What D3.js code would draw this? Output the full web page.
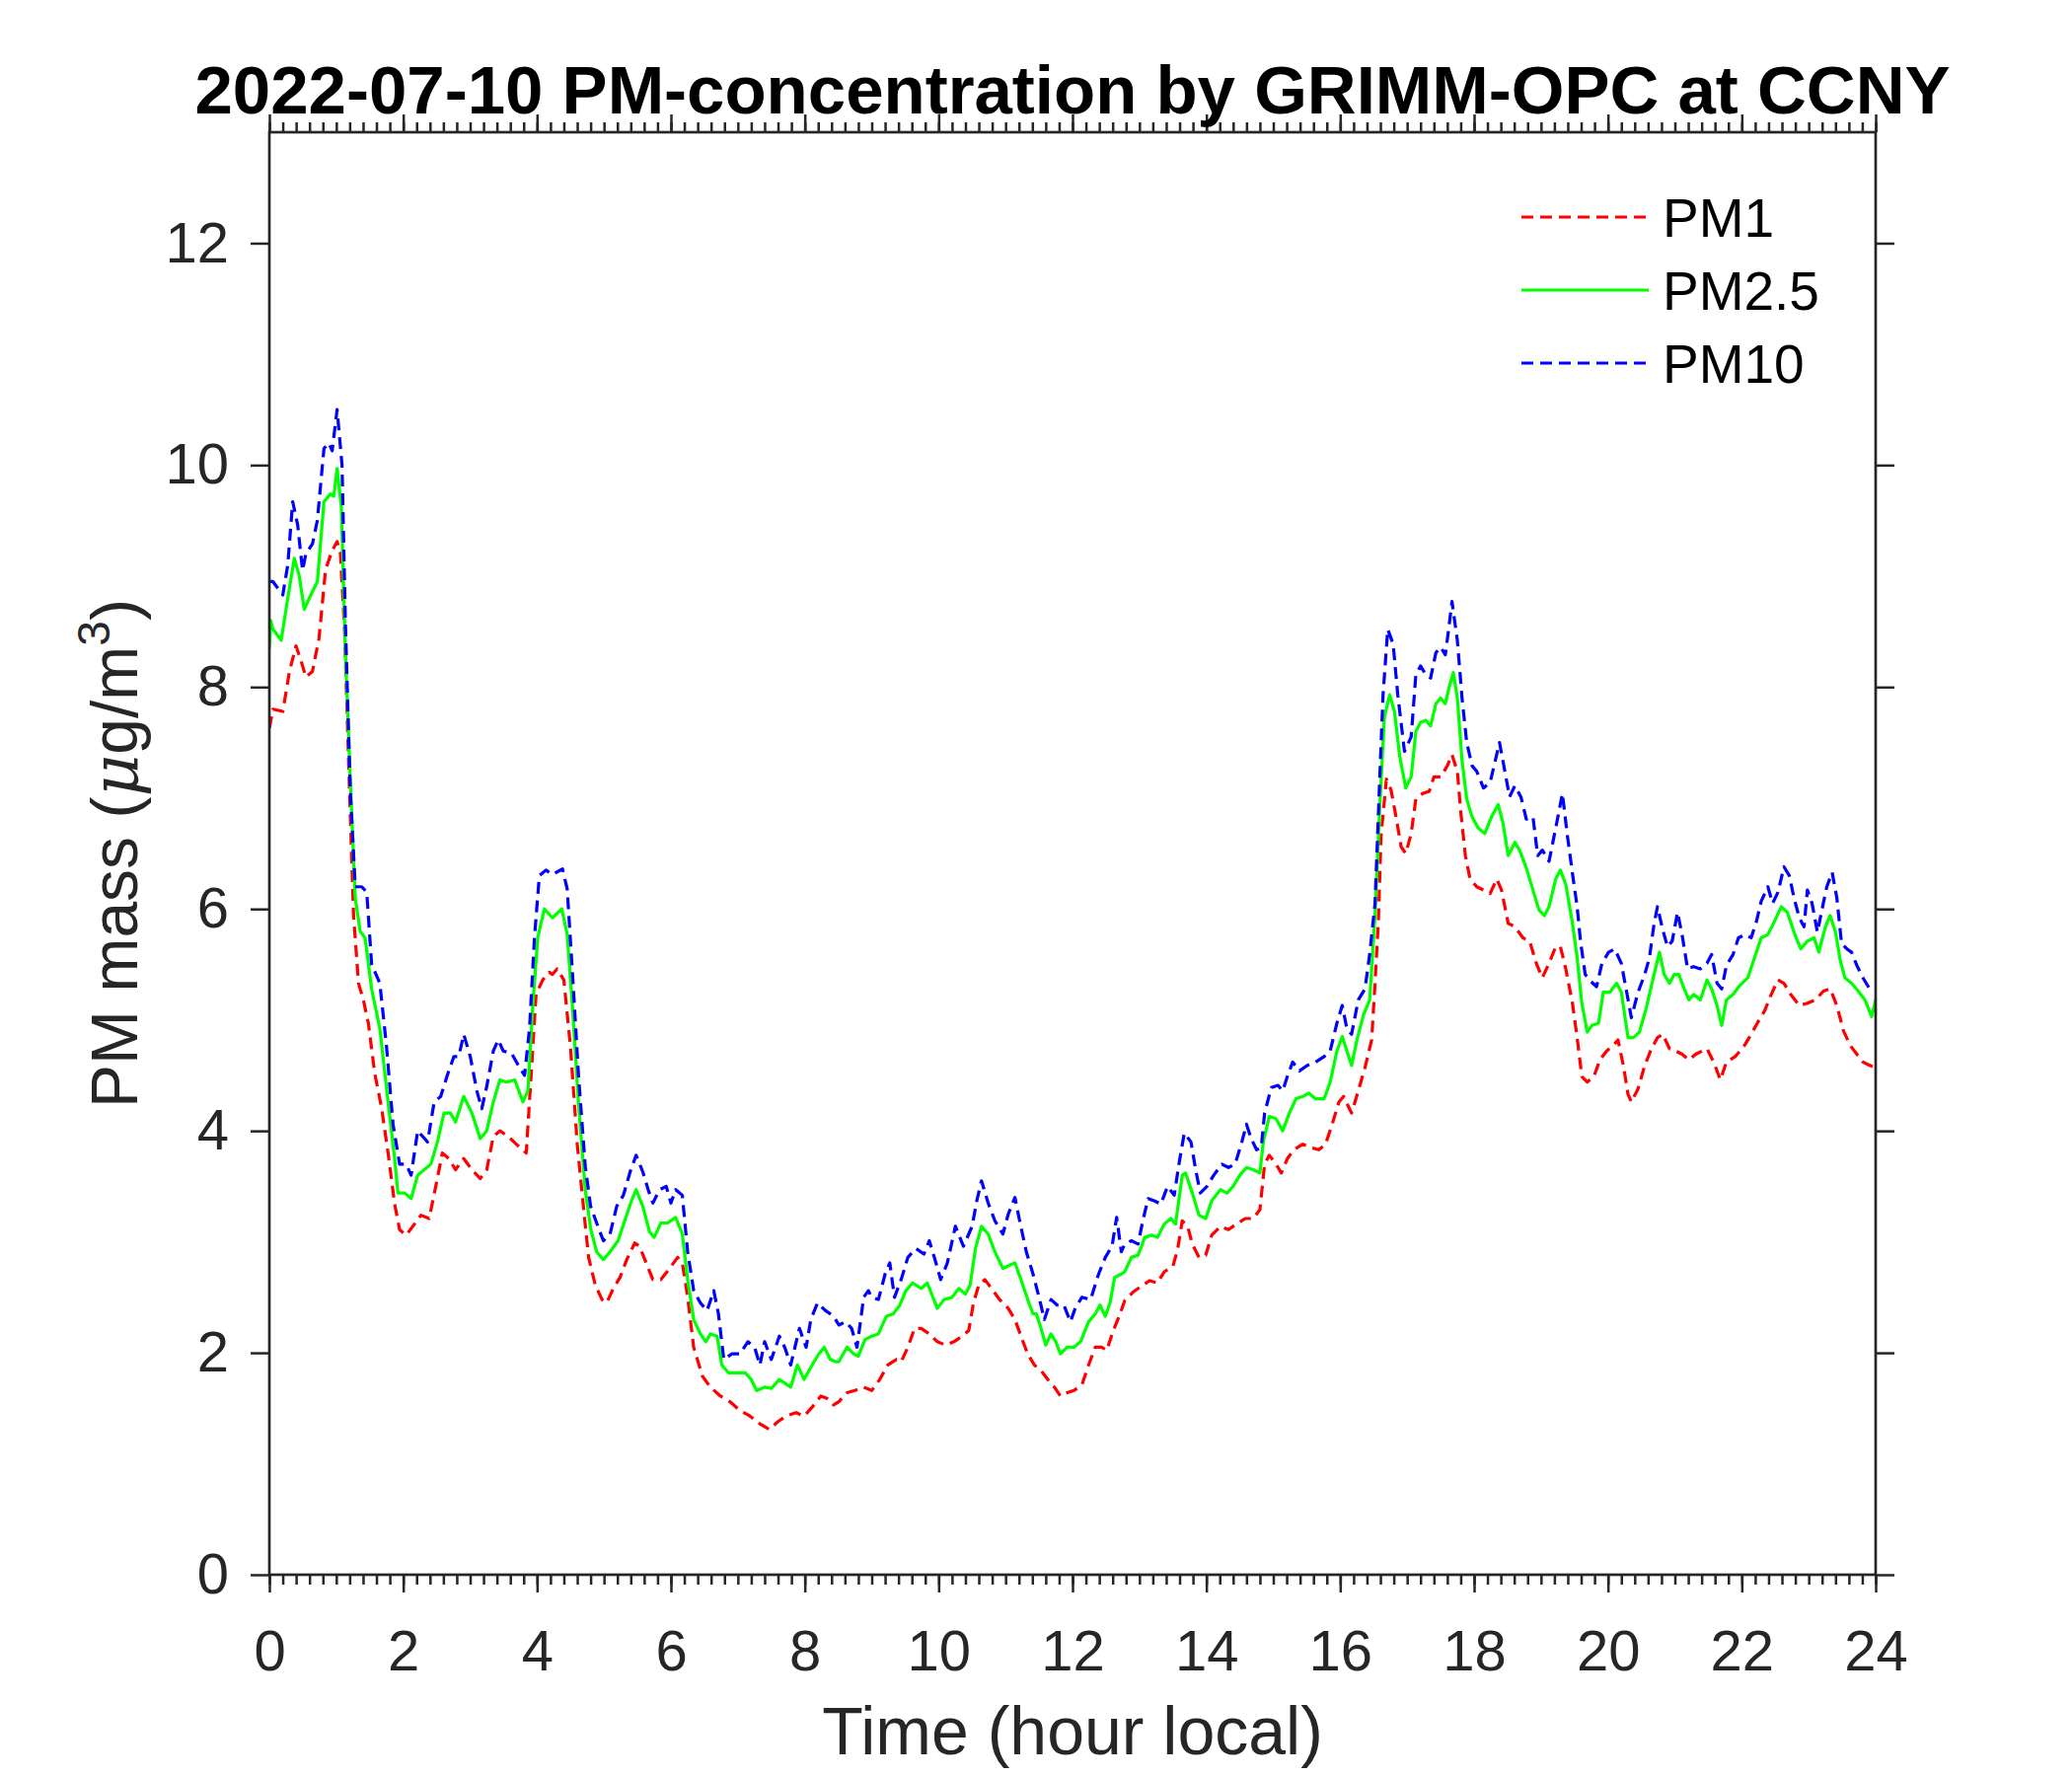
<!DOCTYPE html>
<html>
<head>
<meta charset="utf-8">
<script src="https://cdn.jsdelivr.net/npm/d3@7"></script>
<style>
  body { margin: 0; background: #fff; }
  svg { display: block; font-family: "Liberation Sans", Arial, Helvetica, sans-serif; }
</style>
</head>
<body>
<div id="chart"></div>
<script>
// hours / concentration pairs
const pm1Data = [
  [0,7.63],[0.054,7.8],[0.201,7.78],[0.3,8.14],[0.398,8.37],[0.472,8.24],[0.545,8.09],[0.644,8.14],[0.742,8.44],
  [0.84,9.06],[0.939,9.23],[1.012,9.31],[1.061,9.21],[1.125,8.5],[1.184,7.32],[1.258,5.94],[1.332,5.33],[1.405,5.18],
  [1.479,4.97],[1.577,4.51],[1.676,4.21],[1.774,3.8],[1.872,3.34],[1.946,3.11],[2.044,3.06],[2.143,3.14],[2.265,3.24],
  [2.388,3.21],[2.486,3.5],[2.585,3.8],[2.683,3.75],[2.781,3.65],[2.904,3.75],[3.027,3.65],[3.15,3.57],[3.248,3.65],
  [3.346,3.95],[3.445,4.0],[3.568,3.95],[3.69,3.88],[3.838,3.8],[3.912,4.51],[3.985,5.23],[4.084,5.36],[4.182,5.43],
  [4.23,5.41],[4.30,5.46],[4.40,5.36],[4.50,4.75],[4.60,3.88],[4.70,3.27],[4.77,2.86],[4.87,2.61],[4.97,2.48],
  [5.04,2.45],[5.14,2.58],[5.24,2.68],[5.34,2.84],[5.46,2.99],[5.53,2.96],[5.63,2.81],[5.73,2.66],[5.85,2.66],
  [5.98,2.76],[6.10,2.86],[6.17,2.81],[6.25,2.5],[6.34,2.05],[6.47,1.79],[6.59,1.69],[6.74,1.61],[6.88,1.56],
  [7.03,1.48],[7.18,1.43],[7.33,1.36],[7.47,1.31],[7.60,1.38],[7.72,1.43],[7.87,1.46],[7.99,1.43],[8.11,1.51],
  [8.24,1.61],[8.33,1.59],[8.43,1.53],[8.51,1.56],[8.63,1.64],[8.75,1.66],[8.88,1.69],[9.0,1.66],[9.12,1.76],
  [9.24,1.89],[9.37,1.94],[9.44,1.92],[9.54,2.05],[9.64,2.22],[9.74,2.22],[9.86,2.17],[9.98,2.1],[10.10,2.07],
  [10.23,2.1],[10.35,2.15],[10.45,2.2],[10.52,2.45],[10.60,2.61],[10.69,2.66],[10.79,2.58],[10.91,2.48],[11.04,2.4],
  [11.14,2.3],[11.23,2.15],[11.33,1.99],[11.43,1.89],[11.53,1.84],[11.63,1.76],[11.73,1.69],[11.82,1.61],[11.92,1.64],
  [12.02,1.66],[12.14,1.71],[12.24,1.89],[12.34,2.05],[12.44,2.05],[12.51,2.02],[12.61,2.2],[12.71,2.35],[12.78,2.47],
  [12.91,2.55],[13.03,2.6],[13.15,2.65],[13.27,2.63],[13.37,2.73],[13.50,2.78],[13.57,2.93],[13.64,3.19],[13.72,3.14],
  [13.79,2.98],[13.89,2.86],[13.99,2.88],[14.08,3.06],[14.21,3.14],[14.33,3.11],[14.45,3.16],[14.58,3.21],[14.70,3.21],
  [14.80,3.29],[14.87,3.7],[14.94,3.78],[15.04,3.7],[15.12,3.62],[15.21,3.75],[15.31,3.83],[15.44,3.88],[15.56,3.85],
  [15.68,3.83],[15.78,3.88],[15.88,4.06],[15.98,4.26],[16.05,4.31],[16.17,4.16],[16.27,4.36],[16.37,4.57],[16.47,4.82],
  [16.52,5.33],[16.57,5.89],[16.61,6.66],[16.69,7.17],[16.76,7.07],[16.84,6.81],[16.91,6.56],[16.98,6.5],[17.06,6.68],
  [17.13,6.99],[17.23,7.04],[17.33,7.06],[17.40,7.19],[17.50,7.19],[17.60,7.29],[17.67,7.39],[17.75,7.24],[17.80,6.88],
  [17.87,6.48],[17.94,6.27],[18.04,6.2],[18.14,6.17],[18.24,6.14],[18.34,6.27],[18.41,6.17],[18.51,5.87],[18.61,5.84],
  [18.73,5.74],[18.83,5.71],[18.93,5.51],[19.02,5.38],[19.12,5.51],[19.22,5.66],[19.29,5.66],[19.37,5.46],[19.47,5.15],
  [19.54,4.84],[19.61,4.49],[19.69,4.44],[19.79,4.49],[19.88,4.64],[19.98,4.72],[20.08,4.77],[20.15,4.82],[20.23,4.59],
  [20.30,4.33],[20.35,4.26],[20.45,4.38],[20.55,4.59],[20.65,4.74],[20.74,4.84],[20.82,4.87],[20.92,4.74],[21.01,4.72],
  [21.11,4.69],[21.21,4.64],[21.31,4.69],[21.41,4.72],[21.48,4.74],[21.58,4.62],[21.68,4.46],[21.77,4.62],[21.90,4.67],
  [22.02,4.75],[22.14,4.87],[22.24,4.98],[22.34,5.08],[22.44,5.23],[22.54,5.36],[22.63,5.33],[22.73,5.23],[22.86,5.13],
  [22.98,5.15],[23.10,5.18],[23.22,5.26],[23.32,5.28],[23.42,5.13],[23.52,4.9],[23.62,4.77],[23.72,4.69],[23.81,4.62],
  [23.91,4.59],[24.0,4.57]
];

const pm25Data = [
  [0,8.35],[0.02,8.6],[0.054,8.52],[0.177,8.42],[0.275,8.8],[0.373,9.16],[0.447,9.0],[0.521,8.7],[0.619,8.83],
  [0.717,8.95],[0.816,9.67],[0.914,9.74],[0.963,9.72],[1.012,9.97],[1.076,9.62],[1.135,8.34],[1.209,7.17],[1.283,6.1],
  [1.356,5.8],[1.43,5.74],[1.528,5.28],[1.651,4.92],[1.774,4.26],[1.872,3.75],[1.921,3.44],[2.02,3.44],[2.118,3.39],
  [2.216,3.6],[2.314,3.65],[2.413,3.7],[2.511,3.9],[2.609,4.16],[2.708,4.16],[2.781,4.08],[2.904,4.31],[3.027,4.16],
  [3.15,3.93],[3.248,4.0],[3.346,4.26],[3.445,4.46],[3.543,4.44],[3.666,4.46],[3.789,4.26],[3.862,4.36],[3.936,5.13],
  [4.01,5.74],[4.108,6.0],[4.23,5.92],[4.37,6.0],[4.45,5.77],[4.53,5.11],[4.62,4.24],[4.72,3.47],[4.80,3.12],
  [4.89,2.91],[4.99,2.84],[5.09,2.91],[5.21,3.01],[5.31,3.19],[5.41,3.37],[5.48,3.47],[5.58,3.32],[5.68,3.09],
  [5.75,3.04],[5.85,3.17],[5.95,3.17],[6.07,3.22],[6.17,3.07],[6.25,2.66],[6.34,2.3],[6.44,2.17],[6.52,2.1],
  [6.59,2.17],[6.69,2.15],[6.76,1.89],[6.86,1.82],[6.98,1.82],[7.11,1.82],[7.20,1.76],[7.28,1.66],[7.40,1.69],
  [7.50,1.68],[7.62,1.76],[7.74,1.71],[7.79,1.69],[7.89,1.89],[7.99,1.76],[8.11,1.89],[8.21,1.99],[8.29,2.05],
  [8.38,1.94],[8.46,1.92],[8.51,1.92],[8.63,2.05],[8.73,1.99],[8.80,1.97],[8.90,2.12],[9.0,2.15],[9.10,2.17],
  [9.22,2.33],[9.32,2.35],[9.42,2.43],[9.51,2.56],[9.61,2.63],[9.74,2.58],[9.83,2.63],[9.98,2.4],[10.08,2.48],
  [10.20,2.5],[10.30,2.58],[10.40,2.53],[10.47,2.61],[10.55,2.94],[10.64,3.14],[10.74,3.07],[10.84,2.91],[10.96,2.76],
  [11.06,2.79],[11.14,2.81],[11.23,2.66],[11.33,2.48],[11.41,2.35],[11.46,2.35],[11.53,2.22],[11.60,2.07],[11.68,2.17],
  [11.75,2.1],[11.82,1.99],[11.92,2.05],[12.02,2.05],[12.12,2.1],[12.24,2.28],[12.34,2.35],[12.41,2.43],[12.49,2.33],
  [12.56,2.45],[12.63,2.68],[12.73,2.71],[12.78,2.73],[12.88,2.86],[12.98,2.88],[13.08,3.04],[13.18,3.06],[13.27,3.04],
  [13.37,3.16],[13.47,3.21],[13.54,3.16],[13.64,3.6],[13.69,3.62],[13.79,3.44],[13.89,3.24],[13.99,3.21],[14.08,3.37],
  [14.21,3.47],[14.31,3.44],[14.40,3.5],[14.50,3.6],[14.60,3.67],[14.70,3.65],[14.80,3.62],[14.85,3.9],[14.94,4.13],
  [15.04,4.11],[15.14,4.0],[15.24,4.16],[15.34,4.29],[15.44,4.31],[15.53,4.34],[15.63,4.29],[15.76,4.29],[15.85,4.44],
  [15.95,4.72],[16.03,4.85],[16.10,4.72],[16.17,4.59],[16.25,4.82],[16.35,5.05],[16.44,5.18],[16.52,5.94],[16.59,6.91],
  [16.66,7.73],[16.74,7.93],[16.81,7.78],[16.89,7.37],[16.98,7.09],[17.06,7.19],[17.13,7.6],[17.20,7.68],[17.28,7.7],
  [17.35,7.65],[17.43,7.85],[17.50,7.9],[17.57,7.85],[17.62,7.98],[17.69,8.13],[17.75,7.9],[17.82,7.34],[17.89,6.99],
  [17.97,6.83],[18.06,6.73],[18.16,6.68],[18.26,6.83],[18.36,6.94],[18.43,6.78],[18.51,6.48],[18.61,6.6],[18.68,6.53],
  [18.78,6.37],[18.88,6.17],[18.97,5.99],[19.05,5.94],[19.12,6.02],[19.22,6.27],[19.29,6.35],[19.37,6.22],[19.47,5.87],
  [19.54,5.56],[19.61,5.15],[19.69,4.89],[19.76,4.95],[19.86,4.97],[19.93,5.25],[20.03,5.25],[20.13,5.33],[20.20,5.25],
  [20.30,4.84],[20.38,4.84],[20.47,4.89],[20.57,5.1],[20.67,5.36],[20.77,5.61],[20.84,5.41],[20.92,5.33],[20.99,5.41],
  [21.06,5.41],[21.14,5.28],[21.21,5.18],[21.28,5.23],[21.38,5.18],[21.48,5.36],[21.55,5.28],[21.63,5.13],[21.70,4.95],
  [21.77,5.18],[21.87,5.23],[21.97,5.31],[22.09,5.38],[22.19,5.56],[22.29,5.74],[22.39,5.77],[22.49,5.89],[22.59,6.02],
  [22.68,5.97],[22.78,5.79],[22.88,5.64],[22.98,5.71],[23.08,5.74],[23.15,5.61],[23.25,5.84],[23.32,5.94],[23.40,5.79],
  [23.47,5.54],[23.54,5.38],[23.64,5.33],[23.74,5.26],[23.84,5.18],[23.94,5.03],[24.0,5.18]
];

const pm10Data = [
  [0,8.95],[0.054,8.95],[0.201,8.83],[0.275,9.1],[0.349,9.67],[0.423,9.46],[0.496,9.05],[0.545,9.2],[0.644,9.29],
  [0.717,9.5],[0.816,10.15],[0.889,10.2],[0.939,10.13],[1.012,10.5],[1.086,10.0],[1.135,8.6],[1.209,7.07],[1.283,6.2],
  [1.381,6.2],[1.455,6.15],[1.528,5.5],[1.651,5.33],[1.749,4.77],[1.848,4.06],[1.946,3.7],[2.044,3.7],[2.118,3.6],
  [2.216,4.0],[2.29,3.95],[2.364,3.9],[2.462,4.26],[2.56,4.31],[2.658,4.5],[2.757,4.67],[2.83,4.67],[2.904,4.87],
  [3.002,4.67],[3.1,4.36],[3.174,4.2],[3.248,4.4],[3.346,4.72],[3.42,4.82],[3.494,4.72],[3.617,4.7],[3.74,4.57],
  [3.813,4.5],[3.887,4.92],[3.961,5.74],[4.034,6.3],[4.133,6.35],[4.23,6.31],[4.38,6.36],[4.45,6.18],[4.53,5.41],
  [4.62,4.49],[4.72,3.68],[4.80,3.32],[4.89,3.17],[4.99,3.01],[5.09,3.07],[5.19,3.32],[5.29,3.42],[5.39,3.63],
  [5.48,3.78],[5.58,3.63],[5.66,3.47],[5.73,3.35],[5.83,3.47],[5.93,3.5],[6.0,3.35],[6.07,3.47],[6.17,3.42],
  [6.25,2.91],[6.34,2.56],[6.44,2.45],[6.54,2.38],[6.64,2.56],[6.71,2.35],[6.79,1.94],[6.91,1.99],[7.03,1.99],
  [7.15,2.1],[7.25,2.05],[7.33,1.89],[7.40,2.1],[7.50,1.94],[7.62,2.15],[7.70,2.05],[7.79,1.89],[7.92,2.22],
  [8.02,2.05],[8.09,2.3],[8.19,2.45],[8.31,2.38],[8.43,2.33],[8.51,2.25],[8.61,2.28],[8.70,2.22],[8.78,2.05],
  [8.88,2.5],[8.95,2.56],[9.0,2.5],[9.10,2.48],[9.20,2.71],[9.27,2.81],[9.34,2.5],[9.44,2.66],[9.54,2.86],
  [9.66,2.94],[9.78,2.89],[9.86,3.01],[9.96,2.81],[10.03,2.66],[10.13,2.81],[10.25,3.14],[10.37,2.96],[10.50,3.14],
  [10.57,3.37],[10.64,3.55],[10.74,3.35],[10.84,3.19],[10.96,3.07],[11.04,3.25],[11.14,3.4],[11.21,3.19],[11.31,2.91],
  [11.41,2.71],[11.50,2.5],[11.58,2.3],[11.68,2.48],[11.77,2.43],[11.87,2.43],[11.97,2.28],[12.04,2.4],[12.14,2.5],
  [12.27,2.48],[12.39,2.71],[12.49,2.86],[12.59,2.96],[12.66,3.22],[12.73,2.91],[12.78,2.98],[12.88,3.01],[12.98,2.98],
  [13.05,3.19],[13.13,3.39],[13.22,3.37],[13.32,3.34],[13.42,3.5],[13.52,3.42],[13.59,3.7],[13.67,3.98],[13.77,3.9],
  [13.84,3.65],[13.91,3.44],[14.01,3.5],[14.11,3.6],[14.23,3.7],[14.33,3.67],[14.43,3.7],[14.53,3.9],[14.60,4.06],
  [14.67,3.93],[14.75,3.83],[14.82,3.85],[14.87,4.16],[14.97,4.39],[15.07,4.41],[15.14,4.36],[15.21,4.49],[15.29,4.62],
  [15.39,4.54],[15.51,4.59],[15.63,4.62],[15.76,4.67],[15.85,4.72],[15.95,4.97],[16.03,5.13],[16.10,4.92],[16.17,4.87],
  [16.27,5.18],[16.37,5.28],[16.44,5.59],[16.52,6.05],[16.59,7.17],[16.64,7.93],[16.71,8.52],[16.79,8.39],[16.86,7.93],
  [16.96,7.42],[17.06,7.55],[17.13,8.11],[17.20,8.19],[17.28,8.11],[17.35,8.08],[17.43,8.31],[17.50,8.36],[17.57,8.29],
  [17.62,8.52],[17.67,8.77],[17.75,8.42],[17.82,7.9],[17.89,7.5],[17.97,7.29],[18.04,7.24],[18.14,7.09],[18.24,7.14],
  [18.31,7.32],[18.38,7.5],[18.46,7.24],[18.53,7.01],[18.61,7.11],[18.70,7.01],[18.78,6.81],[18.88,6.83],[18.95,6.48],
  [19.02,6.53],[19.12,6.43],[19.22,6.73],[19.32,7.04],[19.39,6.68],[19.47,6.32],[19.54,6.02],[19.59,5.71],[19.66,5.41],
  [19.74,5.35],[19.83,5.3],[19.91,5.51],[20.01,5.61],[20.10,5.64],[20.20,5.51],[20.28,5.25],[20.35,5.02],[20.45,5.25],
  [20.55,5.41],[20.62,5.56],[20.69,5.87],[20.74,6.02],[20.82,5.81],[20.89,5.66],[20.96,5.71],[21.04,5.97],[21.11,5.76],
  [21.19,5.46],[21.28,5.48],[21.38,5.46],[21.48,5.51],[21.55,5.59],[21.63,5.33],[21.70,5.28],[21.77,5.49],[21.87,5.59],
  [21.95,5.74],[22.05,5.77],[22.14,5.74],[22.22,5.89],[22.29,6.07],[22.39,6.2],[22.46,6.05],[22.54,6.15],[22.63,6.38],
  [22.71,6.3],[22.78,6.1],[22.86,5.92],[22.93,5.84],[22.98,6.17],[23.05,6.05],[23.13,5.79],[23.20,6.0],[23.27,6.2],
  [23.35,6.33],[23.42,6.1],[23.49,5.69],[23.57,5.64],[23.64,5.61],[23.72,5.49],[23.81,5.38],[23.91,5.28],[24.0,5.28]
];

const seriesNames = ["PM1", "PM2.5", "PM10"];
const xTicks = d3.range(0, 25, 2);
const xMinorTicks = d3.range(0, 24.01, 0.2);
const yTicks = d3.range(0, 13, 2);

const width = 2100, height = 1800;
const margin = { left: 273, right: 199, top: 134, bottom: 204 };
const axisColor = "#262626";

const x = d3.scaleLinear().domain([0, 24]).range([margin.left, width - margin.right]);
const y = d3.scaleLinear().domain([0, 13]).range([height - margin.bottom, margin.top]);

const svg = d3.select("#chart").append("svg")
    .attr("width", width)
    .attr("height", height)
    .attr("viewBox", [0, 0, width, height]);

svg.append("rect").attr("width", width).attr("height", height).attr("fill", "#fff");

svg.append("defs").append("clipPath").attr("id", "plot-clip")
  .append("rect")
    .attr("x", x(0)).attr("y", y(13))
    .attr("width", x(24) - x(0)).attr("height", y(0) - y(13));

// series
const styles = [
  { data: pm1Data, color: "#ff0000", dash: "12,7" },
  { data: pm25Data, color: "#00ff00", dash: null },
  { data: pm10Data, color: "#0000ff", dash: "12,7" }
];

const line = d3.line()
    .x(d => x(d[0]))
    .y(d => y(d[1]));

const lines = svg.append("g").attr("clip-path", "url(#plot-clip)");
styles.forEach(s => {
  lines.append("path")
      .datum(s.data)
      .attr("fill", "none")
      .attr("stroke", s.color)
      .attr("stroke-width", 3.2)
      .attr("stroke-linejoin", "round")
      .attr("stroke-dasharray", s.dash)
      .attr("d", line);
});

// axes (MATLAB style: ticks out, box on)
function styleAxis(g) {
  g.select(".domain").remove();
  g.selectAll(".tick line").attr("stroke", axisColor).attr("stroke-width", 2.5);
  g.selectAll(".tick text")
      .attr("fill", axisColor)
      .style("font-size", "58px");
}

svg.append("g")
    .attr("transform", `translate(0,${y(0)})`)
    .call(d3.axisBottom(x).tickValues(xMinorTicks).tickSize(10).tickFormat(""))
    .call(styleAxis);
svg.append("g")
    .attr("transform", `translate(0,${y(13)})`)
    .call(d3.axisTop(x).tickValues(xMinorTicks).tickSize(10).tickFormat(""))
    .call(styleAxis);

svg.append("g")
    .attr("transform", `translate(0,${y(0)})`)
    .call(d3.axisBottom(x).tickValues(xTicks).tickSize(18).tickPadding(38).tickFormat(d3.format("d")))
    .call(styleAxis);
svg.append("g")
    .attr("transform", `translate(0,${y(13)})`)
    .call(d3.axisTop(x).tickValues(xTicks).tickSize(18).tickFormat(""))
    .call(styleAxis);

svg.append("g")
    .attr("transform", `translate(${x(0)},0)`)
    .call(d3.axisLeft(y).tickValues(yTicks).tickSize(19).tickPadding(22).tickFormat(d3.format("d")))
    .call(styleAxis);
svg.append("g")
    .attr("transform", `translate(${x(24)},0)`)
    .call(d3.axisRight(y).tickValues(yTicks).tickSize(19).tickFormat(""))
    .call(styleAxis);

svg.append("rect")
    .attr("x", x(0)).attr("y", y(13))
    .attr("width", x(24) - x(0)).attr("height", y(0) - y(13))
    .attr("fill", "none")
    .attr("stroke", axisColor)
    .attr("stroke-width", 2.7);

// title and labels
const cx = (x(0) + x(24)) / 2;

svg.append("text")
    .attr("x", cx)
    .attr("y", 115)
    .attr("text-anchor", "middle")
    .attr("font-weight", "bold")
    .attr("font-size", 69)
    .attr("fill", "#000")
    .text("2022-07-10 PM-concentration by GRIMM-OPC at CCNY");

svg.append("text")
    .attr("x", cx)
    .attr("y", 1778)
    .attr("text-anchor", "middle")
    .attr("font-size", 68)
    .attr("fill", axisColor)
    .text("Time (hour local)");

const yLabel = svg.append("text")
    .attr("transform", `translate(139,${(y(0) + y(13)) / 2}) rotate(-90)`)
    .attr("text-anchor", "middle")
    .attr("font-size", 66)
    .attr("fill", axisColor);
yLabel.append("tspan").text("PM mass (");
yLabel.append("tspan").attr("font-style", "italic").attr("font-family", "'DejaVu Serif', serif").text("μ");
yLabel.append("tspan").text("g/m");
yLabel.append("tspan").attr("font-size", 46).attr("dy", -28).text("3");
yLabel.append("tspan").attr("dy", 28).text(")");

// legend, no box
const legend = svg.append("g").attr("transform", "translate(1542,220)");
styles.forEach((s, i) => {
  const row = legend.append("g").attr("transform", `translate(0,${i * 74})`);
  row.append("line")
      .attr("x1", 0).attr("x2", 129)
      .attr("stroke", s.color)
      .attr("stroke-width", 3)
      .attr("stroke-dasharray", s.dash);
  row.append("text")
      .attr("x", 143)
      .attr("dy", "0.36em")
      .attr("font-size", 55)
      .attr("fill", "#000")
      .text(seriesNames[i]);
});
</script>
</body>
</html>
